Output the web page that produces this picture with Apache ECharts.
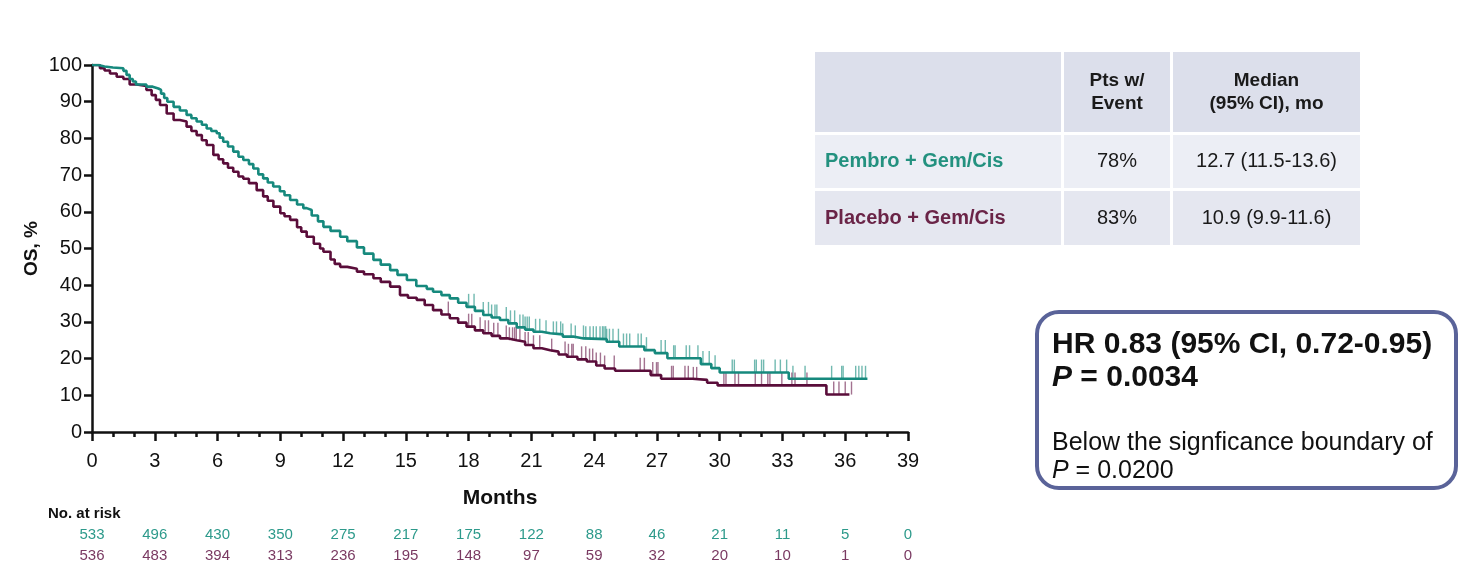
<!DOCTYPE html>
<html>
<head>
<meta charset="utf-8">
<title>Overall survival</title>
<script src="https://cdn.jsdelivr.net/npm/echarts@6/dist/echarts.min.js"></script>
<style>
  html, body { margin: 0; padding: 0; background: #ffffff; }
  #chart { width: 1460px; height: 565px; }
</style>
</head>
<body>
<div id="chart"></div>
<script>
// Kaplan-Meier estimates: [month, OS %] at each step
const pembroCurve = [
  [0,100],[0.3,99.6],[0.6,99.3],[1.0,99.1],[1.5,98.4],[1.65,97.3],[1.8,96.2],[1.95,95.5],
  [2.1,94.7],[2.6,94.1],[2.9,93.6],[3.17,93.2],[3.3,92.2],[3.45,91.0],[3.6,90.0],[3.9,88.6],
  [4.2,87.6],[4.52,86.4],[4.75,85.5],[5.0,84.6],[5.25,83.7],[5.48,82.7],[5.7,82.0],[5.96,81.4],
  [6.1,80.2],[6.27,79.1],[6.5,77.8],[6.75,76.4],[7.0,75.0],[7.23,74.1],[7.5,73.0],[7.71,71.8],
  [7.95,70.2],[8.18,69.1],[8.4,68.0],[8.66,66.9],[8.98,65.6],[9.2,64.5],[9.47,63.2],[9.8,62.0],
  [10.1,61.0],[10.26,60.5],[10.5,59.0],[10.8,57.4],[11.06,55.9],[11.4,54.8],[11.86,53.2],
  [12.2,52.0],[12.66,50.3],[13.0,48.6],[13.45,46.9],[13.8,45.6],[14.25,44.1],[14.6,42.8],
  [15.05,41.4],[15.5,39.8],[16.0,39.0],[16.3,38.2],[16.7,37.3],[17.1,36.4],[17.5,35.2],
  [17.9,34.1],[18.3,33.0],[18.7,31.9],[19.1,31.2],[19.5,30.5],[19.9,29.6],[20.3,28.5],
  [20.7,27.9],[21.1,27.3],[21.5,26.9],[21.9,26.6],[22.5,26.0],[23.0,25.5],[23.5,25.3],
  [24.6,24.6],[25.2,23.3],[26.4,22.3],[26.9,21.5],[27.5,20.1],[29.1,18.5],[29.6,17.4],
  [30.0,16.2],[33.3,14.5],[37.06,14.5]
];
const placeboCurve = [
  [0,100],[0.38,99.1],[0.6,98.5],[0.86,97.7],[1.18,96.8],[1.5,96.2],[1.8,94.7],[2.13,94.3],
  [2.6,93.2],[2.85,91.8],[3.05,90.5],[3.25,89.1],[3.57,86.8],[3.9,85.0],[4.2,84.6],[4.52,83.2],
  [4.75,82.0],[5.0,80.9],[5.25,79.5],[5.48,78.2],[5.8,75.5],[6.05,74.3],[6.27,73.2],[6.5,72.0],
  [6.75,70.9],[7.0,69.6],[7.23,69.0],[7.5,67.8],[7.87,65.9],[8.18,64.2],[8.4,63.0],[8.67,61.4],
  [9.0,59.6],[9.2,58.8],[9.47,57.8],[9.8,55.8],[10.0,54.6],[10.26,53.2],[10.6,51.3],[10.9,50.0],
  [11.06,49.1],[11.4,47.0],[11.6,45.8],[11.86,45.0],[12.2,44.5],[12.66,43.7],[13.0,43.0],
  [13.45,41.9],[13.8,40.9],[14.25,39.6],[14.72,37.3],[15.1,36.6],[15.52,36.0],[15.9,34.6],
  [16.3,33.2],[16.7,32.0],[17.1,31.0],[17.5,29.8],[17.9,28.7],[18.3,27.7],[18.7,26.9],
  [19.1,26.2],[19.5,25.5],[19.9,25.0],[20.3,24.6],[20.7,23.7],[21.1,22.8],[21.5,22.3],
  [21.9,21.9],[22.3,21.1],[22.7,20.5],[23.2,19.8],[23.65,19.2],[24.1,18.1],[24.5,17.3],
  [25.0,16.7],[26.7,15.5],[27.2,14.5],[28.7,14.2],[29.4,13.4],[29.9,12.7],[35.1,10.2],[36.2,10.2]
];

// Censoring times (months)
const pembroCensored = [
  18.0,18.26,18.7,18.95,19.1,19.26,19.35,19.8,20.0,20.2,20.45,20.6,20.7,20.8,20.9,21.2,21.4,
  21.7,22.05,22.2,22.4,22.5,22.9,23.1,23.49,23.6,23.8,23.96,24.1,24.28,24.4,24.47,24.55,24.6,
  24.73,24.9,25.16,25.4,25.55,25.7,26.1,26.25,26.5,27.2,27.4,27.8,27.87,28.4,28.56,28.96,29.2,
  29.5,29.78,30.6,30.7,31.67,31.75,32.0,32.1,32.65,32.9,33.2,33.5,34.08,35.35,35.83,35.9,36.5,
  36.65,36.8,36.97
];
const placeboCensored = [
  17.03,18.0,18.15,18.55,18.79,18.95,19.2,19.4,19.8,19.95,20.1,20.2,20.28,20.45,20.7,20.85,
  21.1,21.4,21.97,22.61,22.77,22.93,23.0,23.4,23.6,23.78,23.93,24.1,24.3,24.5,24.96,26.2,26.4,
  26.8,26.98,27.05,27.7,27.78,28.34,28.5,28.74,28.9,30.2,30.3,30.73,30.9,31.7,32.0,32.3,32.4,
  32.97,33.45,33.6,34.17,35.45,35.7,36.0,36.3
];

// Number at risk, every 3 months from 0 to 39
const riskPembro = [533, 496, 430, 350, 275, 217, 175, 122, 88, 46, 21, 11, 5, 0];
const riskPlacebo = [536, 483, 394, 313, 236, 195, 148, 97, 59, 32, 20, 10, 1, 0];

// Summary table
const tableHeader = ['', 'Pts w/\nEvent', 'Median\n(95% CI), mo'];
const armNames = ['Pembro + Gem/Cis', 'Placebo + Gem/Cis'];
const armEventPct = ['78%', '83%'];
const armMedian = ['12.7 (11.5-13.6)', '10.9 (9.9-11.6)'];

const TEAL = '#16897d';
const TEAL_TICK = '#4da89c';
const PLUM = '#5a0d3a';
const PLUM_TICK = '#8c4f74';
const TEAL_TEXT = '#23917f';
const PLUM_TEXT = '#6a2447';
const FONT = 'Liberation Sans, Arial, sans-serif';

function survivalAt(curve, t) {
  let v = curve[0][1];
  for (const p of curve) { if (p[0] <= t) v = p[1]; else break; }
  return v;
}
const censorPoints = (curve, times) => times.map(t => [t, survivalAt(curve, t)]);

const chart = echarts.init(document.getElementById('chart'), null, { renderer: 'canvas' });

const riskAxis = (values, color, offset) => ({
  type: 'value', gridIndex: 0, position: 'bottom', offset: offset,
  min: 0, max: 39, interval: 3,
  axisLine: { show: false }, axisTick: { show: false }, splitLine: { show: false },
  axisLabel: {
    margin: 0, color: color, fontSize: 15, fontFamily: FONT,
    formatter: v => String(values[Math.round(v / 3)])
  }
});

// Table cells
const colX = [815, 1064, 1173];
const colW = [246, 106, 187];
const rowY = [52, 135, 191];
const rowH = [80, 53, 54];
const rowFill = ['#dcdfeb', '#eceef5', '#e5e7f0'];
const tableGraphics = [];
for (let r = 0; r < 3; r++) {
  for (let c = 0; c < 3; c++) {
    tableGraphics.push({
      type: 'rect', shape: { x: colX[c], y: rowY[r], width: colW[c], height: rowH[r] },
      style: { fill: rowFill[r] }, silent: true
    });
  }
}
for (let c = 1; c < 3; c++) {
  tableGraphics.push({
    type: 'text', x: colX[c] + colW[c] / 2, y: rowY[0] + rowH[0] / 2,
    style: { text: tableHeader[c], fontSize: 19, fontWeight: 'bold', fontFamily: FONT,
      fill: '#1a1a1a', align: 'center', verticalAlign: 'middle', lineHeight: 23 }
  });
}
for (let r = 0; r < 2; r++) {
  const cy = rowY[r + 1] + rowH[r + 1] / 2;
  tableGraphics.push({
    type: 'text', x: 825, y: cy,
    style: { text: armNames[r], fontSize: 20, fontWeight: 'bold', fontFamily: FONT,
      fill: r === 0 ? TEAL_TEXT : PLUM_TEXT, align: 'left', verticalAlign: 'middle' }
  });
  tableGraphics.push({
    type: 'text', x: colX[1] + colW[1] / 2, y: cy,
    style: { text: armEventPct[r], fontSize: 20, fontFamily: FONT, fill: '#1a1a1a',
      align: 'center', verticalAlign: 'middle' }
  });
  tableGraphics.push({
    type: 'text', x: colX[2] + colW[2] / 2, y: cy,
    style: { text: armMedian[r], fontSize: 20, fontFamily: FONT, fill: '#1a1a1a',
      align: 'center', verticalAlign: 'middle' }
  });
}

// Hazard ratio box
const hrGraphics = [
  { type: 'rect', shape: { x: 1037, y: 312, width: 419, height: 176, r: 22 },
    style: { fill: '#ffffff', stroke: '#5a6399', lineWidth: 4 } },
  { type: 'text', x: 1052, y: 345,
    style: { text: 'HR 0.83 (95% CI, 0.72-0.95)', fontSize: 30, fontWeight: 'bold',
      fontFamily: FONT, fill: '#111', verticalAlign: 'middle' } },
  { type: 'text', x: 1052, y: 378,
    style: { text: '{i|P} = 0.0034', fontSize: 30, fontWeight: 'bold', fontFamily: FONT,
      fill: '#111', verticalAlign: 'middle',
      rich: { i: { fontStyle: 'italic', fontWeight: 'bold', fontSize: 30, fontFamily: FONT, fill: '#111' } } } },
  { type: 'text', x: 1052, y: 443,
    style: { text: 'Below the signficance boundary of', fontSize: 25, fontFamily: FONT,
      fill: '#111', verticalAlign: 'middle' } },
  { type: 'text', x: 1052, y: 471,
    style: { text: '{i|P} = 0.0200', fontSize: 25, fontFamily: FONT, fill: '#111',
      verticalAlign: 'middle',
      rich: { i: { fontStyle: 'italic', fontSize: 25, fontFamily: FONT, fill: '#111' } } } }
];

const option = {
  animation: false,
  backgroundColor: '#ffffff',
  textStyle: { fontFamily: FONT },
  grid: { left: 92, top: 65, width: 816, height: 367, containLabel: false },
  xAxis: [
    {
      type: 'value', gridIndex: 0, min: 0, max: 39, interval: 3,
      name: 'Months', nameLocation: 'middle', nameGap: 56,
      nameTextStyle: { fontSize: 21, fontWeight: 'bold', color: '#111', fontFamily: FONT },
      axisLine: { lineStyle: { color: '#111', width: 2.5 } },
      axisTick: { inside: false, length: 9, lineStyle: { color: '#111', width: 2.5 } },
      minorTick: { show: true, splitNumber: 3, length: 5, lineStyle: { color: '#111', width: 2.5 } },
      axisLabel: { fontSize: 20, color: '#111', margin: 19, fontFamily: FONT },
      splitLine: { show: false }
    },
    riskAxis(riskPembro, '#2d9a8b', 95),
    riskAxis(riskPlacebo, '#7a3a62', 116)
  ],
  yAxis: {
    type: 'value', min: 0, max: 100, interval: 10,
    name: 'OS, %', nameLocation: 'middle', nameGap: 60, nameRotate: 90,
    nameMoveOverlap: false,
    nameTextStyle: { fontSize: 19, fontWeight: 'bold', color: '#111', fontFamily: FONT,
      verticalAlign: 'middle' },
    axisLine: { show: true, lineStyle: { color: '#111', width: 2.5 } },
    axisTick: { show: true, length: 8, lineStyle: { color: '#111', width: 2.5 } },
    axisLabel: { fontSize: 20, color: '#111', margin: 10, fontFamily: FONT },
    splitLine: { show: false }
  },
  graphic: [
    { type: 'text', x: 48, y: 514,
      style: { text: 'No. at risk', fontSize: 15, fontWeight: 'bold', fontFamily: FONT,
        fill: '#111', verticalAlign: 'middle' } },
    ...tableGraphics,
    ...hrGraphics
  ],
  series: [
    {
      name: 'Pembro + Gem/Cis', type: 'scatter', xAxisIndex: 0,
      data: censorPoints(pembroCurve, pembroCensored),
      symbol: 'rect', symbolSize: [1.4, 13], symbolOffset: [0, -6.5],
      itemStyle: { color: TEAL_TICK }, z: 2, silent: true
    },
    {
      name: 'Placebo + Gem/Cis', type: 'scatter', xAxisIndex: 0,
      data: censorPoints(placeboCurve, placeboCensored),
      symbol: 'rect', symbolSize: [1.4, 13], symbolOffset: [0, -6.5],
      itemStyle: { color: PLUM_TICK }, z: 2, silent: true
    },
    {
      name: 'Placebo + Gem/Cis', type: 'line', xAxisIndex: 0, step: 'end',
      data: placeboCurve, showSymbol: false,
      lineStyle: { color: PLUM, width: 2.6 }, z: 3, silent: true
    },
    {
      name: 'Pembro + Gem/Cis', type: 'line', xAxisIndex: 0, step: 'end',
      data: pembroCurve, showSymbol: false,
      lineStyle: { color: TEAL, width: 2.6 }, z: 4, silent: true
    }
  ]
};

chart.setOption(option);
</script>
</body>
</html>
